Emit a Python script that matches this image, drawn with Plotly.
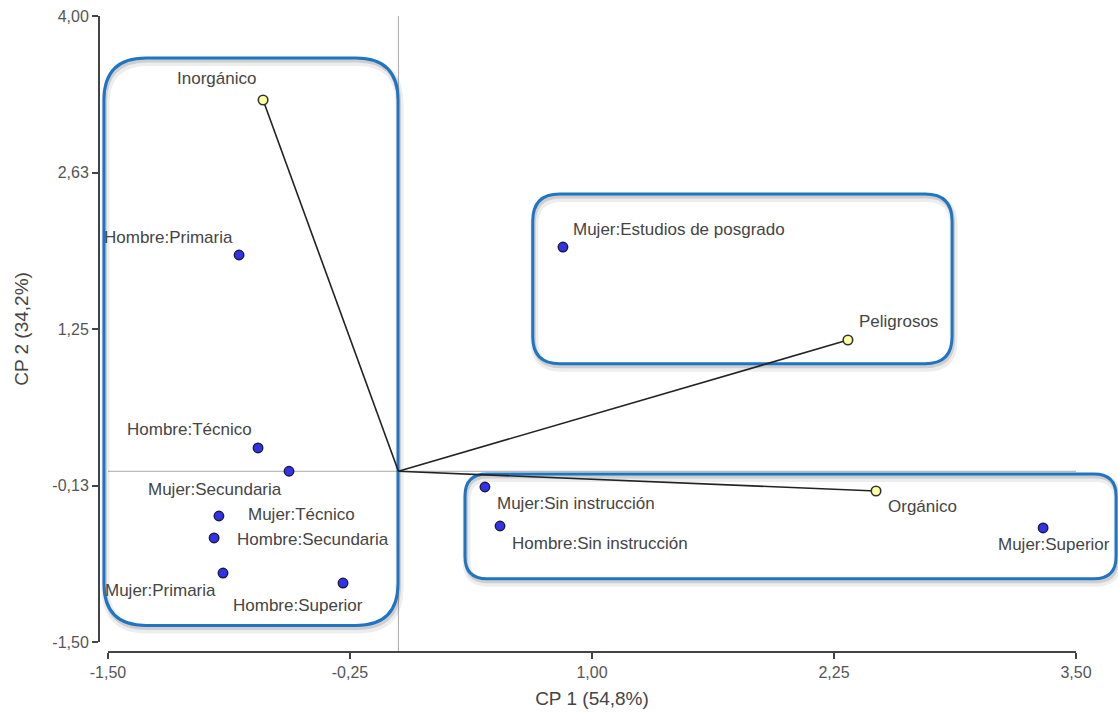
import plotly.graph_objects as go

# ---------------- data ----------------
obs_names = ["Hombre:Primaria", "Hombre:Técnico", "Mujer:Secundaria", "Mujer:Técnico",
             "Hombre:Secundaria", "Mujer:Primaria", "Hombre:Superior",
             "Mujer:Estudios de posgrado", "Mujer:Sin instrucción",
             "Hombre:Sin instrucción", "Mujer:Superior"]
obs_x = [-0.823, -0.725, -0.565, -0.927, -0.952, -0.906, -0.286, 0.850, 0.447, 0.525, 3.330]
obs_y = [1.900, 0.205, 0.000, -0.393, -0.586, -0.894, -0.982, 1.970, -0.138, -0.481, -0.498]

var_names = ["Inorgánico", "Peligrosos", "Orgánico"]
var_x = [-0.699, 2.322, 2.467]
var_y = [3.262, 1.153, -0.173]

x_ticks = [-1.5, -0.25, 1.0, 2.25, 3.5]
x_ticktext = ["-1,50", "-0,25", "1,00", "2,25", "3,50"]
y_ticks = [-1.5, -0.125, 1.25, 2.625, 4.0]
y_ticktext = ["-1,50", "-0,13", "1,25", "2,63", "4,00"]

x_title = "CP 1 (54,8%)"
y_title = "CP 2 (34,2%)"

# group boxes (data coordinates: x0, x1, y0, y1) and corner radius in px
boxes = [(-1.521, -0.002, -1.355, 3.631, 42),
         (0.694, 2.860, 0.945, 2.436, 27),
         (0.344, 3.707, -0.945, -0.024, 22)]

# ---------------- styling / layout geometry ----------------
W, H = 1118, 713
ML, MR, MT, MB = 99, 42, 16, 61
PW = W - ML - MR
PH = H - MT - MB
XMIN, XMAX = -1.5, 3.5
YMIN, YMAX = -1.5, 4.0
DX0 = 9 / PW
DY0 = 10 / PH

def px_(v):
    return DX0 + (v - XMIN) / (XMAX - XMIN) * (1 - DX0)

def py_(v):
    return DY0 + (v - YMIN) / (YMAX - YMIN) * (1 - DY0)

def rrect(x0, x1, y0, y1, r, dx=0.0, dy=0.0):
    a0, a1 = px_(x0) + dx / PW, px_(x1) + dx / PW
    b0, b1 = py_(y0) - dy / PH, py_(y1) - dy / PH
    rx, ry = r / PW, r / PH
    return (f"M {a0+rx},{b1} L {a1-rx},{b1} Q {a1},{b1} {a1},{b1-ry} "
            f"L {a1},{b0+ry} Q {a1},{b0} {a1-rx},{b0} L {a0+rx},{b0} "
            f"Q {a0},{b0} {a0},{b0+ry} L {a0},{b1-ry} Q {a0},{b1} {a0+rx},{b1} Z")

TXT = "#454545"
FONT = "Liberation Sans, Arial, sans-serif"
LABEL_SIZE = 17

fig = go.Figure()

# vectors from origin
for i in range(len(var_names)):
    fig.add_trace(go.Scatter(x=[0, var_x[i]], y=[0, var_y[i]], mode="lines",
                             line=dict(color="#222222", width=1.6),
                             hoverinfo="skip", showlegend=False))

fig.add_trace(go.Scatter(x=obs_x, y=obs_y, mode="markers", text=obs_names,
                         marker=dict(size=9.5, color="#3232ee",
                                     line=dict(color="#1c1c3a", width=1.4)),
                         showlegend=False, cliponaxis=False))
fig.add_trace(go.Scatter(x=var_x, y=var_y, mode="markers", text=var_names,
                         marker=dict(size=9.5, color="#ffffa0",
                                     line=dict(color="#333333", width=1.6)),
                         showlegend=False, cliponaxis=False))

# label placement (anchor, xshift, yshift)
obs_lab = {
    "Hombre:Primaria": ("right", -4, 18),
    "Hombre:Técnico": ("right", -4, 18),
    "Mujer:Secundaria": ("right", -5, -18),
    "Mujer:Técnico": ("left", 27, 2),
    "Hombre:Secundaria": ("left", 21, -2),
    "Mujer:Primaria": ("right", -5, -17),
    "Hombre:Superior": ("right", 22, -22),
    "Mujer:Estudios de posgrado": ("left", 8, 18),
    "Mujer:Sin instrucción": ("left", 10, -17),
    "Hombre:Sin instrucción": ("left", 10, -17),
    "Mujer:Superior": ("center", 11, -17),
}
var_lab = {
    "Inorgánico": ("right", -5, 22),
    "Peligrosos": ("left", 9, 19),
    "Orgánico": ("left", 10, -16),
}

annotations = []
for names, xs, ys, lab in ((obs_names, obs_x, obs_y, obs_lab),
                           (var_names, var_x, var_y, var_lab)):
    for n, xv, yv in zip(names, xs, ys):
        anc, sx, sy = lab[n]
        annotations.append(dict(x=xv, y=yv, xref="x", yref="y", text=n,
                                showarrow=False, xanchor=anc, yanchor="middle",
                                xshift=sx, yshift=sy,
                                font=dict(size=LABEL_SIZE, color=TXT, family=FONT)))

shapes = []
# zero reference lines
shapes.append(dict(type="line", xref="paper", yref="paper",
                   x0=px_(0), x1=px_(0), y0=0, y1=1,
                   line=dict(color="#a8a8a8", width=1), layer="below"))
shapes.append(dict(type="line", xref="paper", yref="paper",
                   x0=DX0, x1=1, y0=py_(0), y1=py_(0),
                   line=dict(color="#a8a8a8", width=1), layer="below"))
for (x0, x1, y0, y1, r) in boxes:
    shapes.append(dict(type="path", xref="paper", yref="paper",
                       path=rrect(x0, x1, y0, y1, r, 1.5, 4),
                       line=dict(color="rgba(0,0,0,0.07)", width=8), layer="below"))
    shapes.append(dict(type="path", xref="paper", yref="paper",
                       path=rrect(x0, x1, y0, y1, r, 1, 2.5),
                       line=dict(color="rgba(0,0,0,0.13)", width=4), layer="below"))
    shapes.append(dict(type="path", xref="paper", yref="paper",
                       path=rrect(x0, x1, y0, y1, r),
                       line=dict(color="#1f74c4", width=3), layer="below"))

fig.update_layout(
    width=W, height=H,
    margin=dict(l=ML, r=MR, t=MT, b=MB, autoexpand=False),
    paper_bgcolor="white", plot_bgcolor="white",
    font=dict(family=FONT, color=TXT),
    showlegend=False,
    annotations=annotations,
    shapes=shapes,
    xaxis=dict(range=[XMIN, XMAX], domain=[DX0, 1], anchor="free", position=0,
               showgrid=False, zeroline=False, showline=True,
               linecolor="#444444", linewidth=2,
               ticks="outside", ticklen=6, tickwidth=2, tickcolor="#444444",
               tickvals=x_ticks, ticktext=x_ticktext,
               tickfont=dict(size=16, color="#555555", family=FONT),
               title=dict(text=x_title, standoff=10,
                          font=dict(size=19, color=TXT, family=FONT))),
    yaxis=dict(range=[YMIN, YMAX], domain=[DY0, 1], anchor="free", position=0,
               showgrid=False, zeroline=False, showline=True,
               linecolor="#444444", linewidth=2,
               ticks="outside", ticklen=6, tickwidth=2, tickcolor="#444444",
               tickvals=y_ticks, ticktext=y_ticktext,
               tickfont=dict(size=16, color="#555555", family=FONT),
               title=dict(text=y_title, standoff=18,
                          font=dict(size=19, color=TXT, family=FONT))),
)

fig.write_html("out.html", config={"displayModeBar": False},
               post_script="document.body.style.margin='0';document.body.style.overflow='hidden';")
